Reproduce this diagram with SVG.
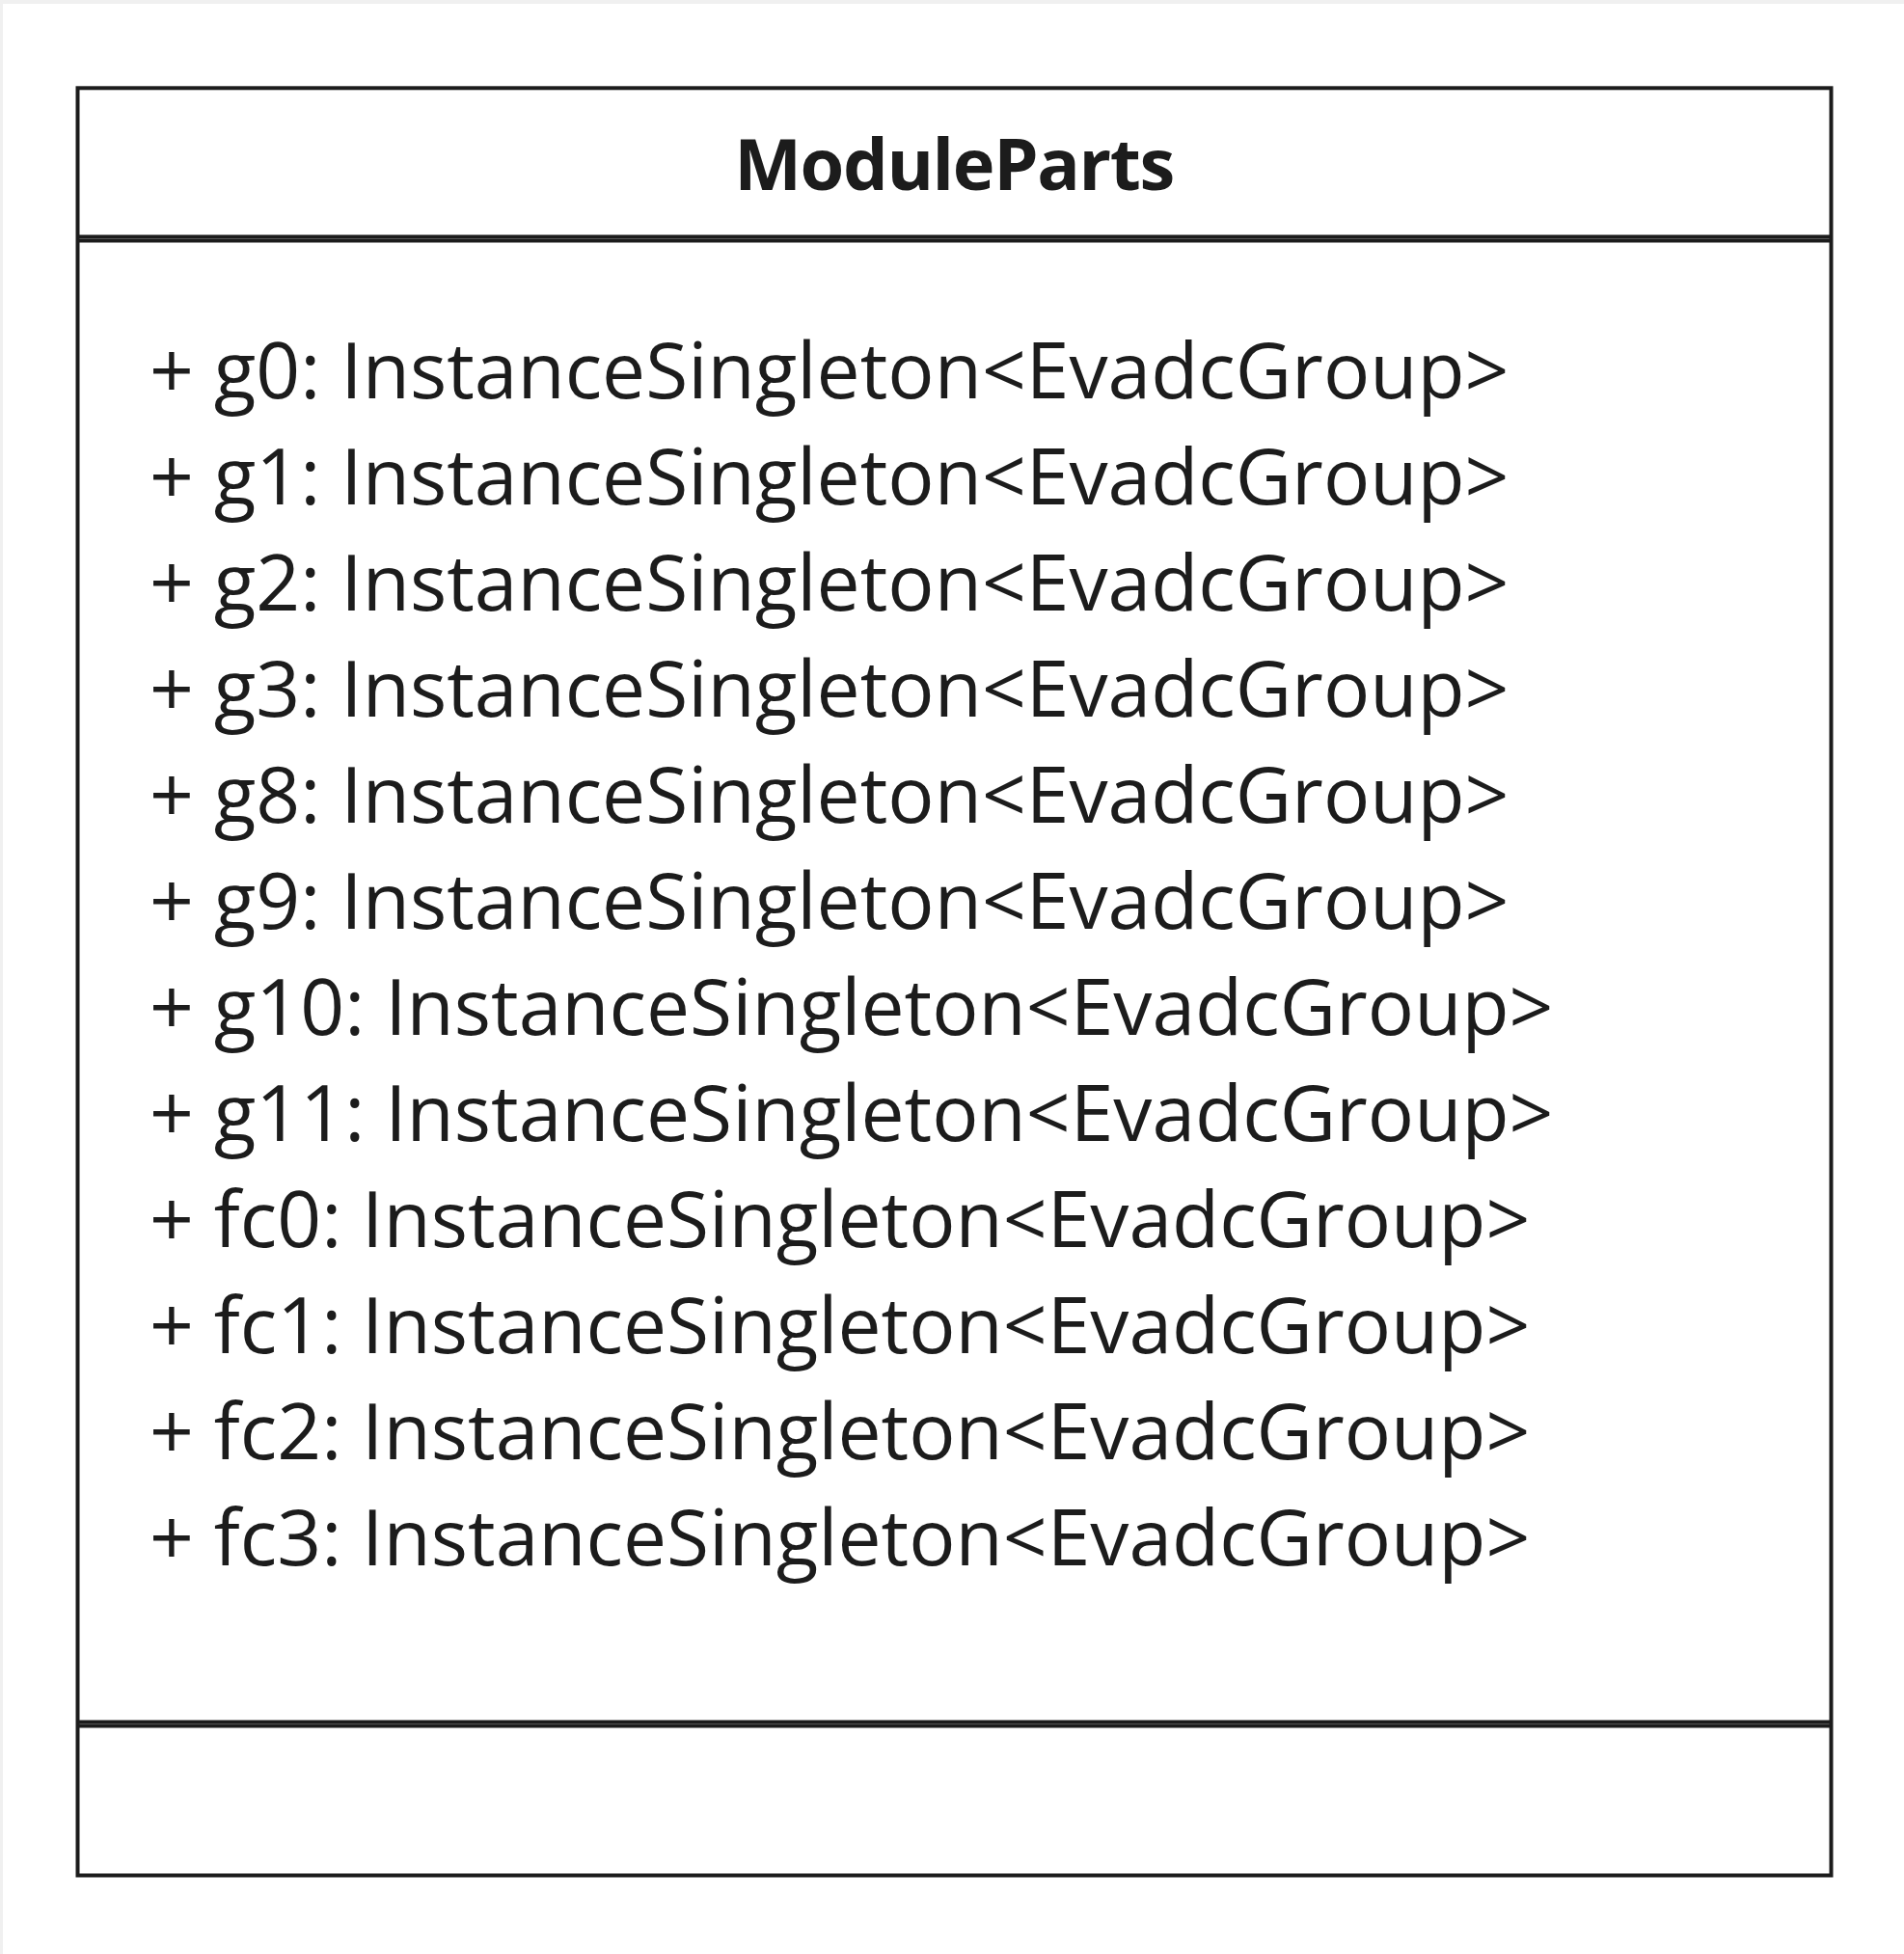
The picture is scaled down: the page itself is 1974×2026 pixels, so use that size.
<svg xmlns="http://www.w3.org/2000/svg" width="1974" height="2026" viewBox="0 0 1974 2026">
<style>
.box{fill:#ffffff;stroke:#1c1c1c;stroke-width:4}
.sep{stroke:#1c1c1c;stroke-width:4}
.title{font-family:"Open Sans","Liberation Sans",sans-serif;font-weight:700;font-size:74px;letter-spacing:-1.4px;fill:#1c1c1c;text-anchor:middle}
.attr{font-family:"Open Sans","Liberation Sans",sans-serif;font-size:80.3px;fill:#1c1c1c}
</style>
<rect x="0" y="0" width="1974" height="2026" fill="#f0f0f0"/>
<rect x="3" y="4" width="1971" height="2022" fill="#ffffff"/>
<g id="ModuleParts">
<rect class="box" x="80.5" y="91.3" width="1818" height="1853.2"/>
<line class="sep" x1="80.5" y1="245.5" x2="1898.5" y2="245.5"/>
<line class="sep" x1="80.5" y1="249.5" x2="1898.5" y2="249.5"/>
<line class="sep" x1="80.5" y1="1785.5" x2="1898.5" y2="1785.5"/>
<line class="sep" x1="80.5" y1="1789.5" x2="1898.5" y2="1789.5"/>
<text class="title" x="989" y="197">ModuleParts</text>
<text class="attr" x="155" y="413">+ g0: InstanceSingleton&lt;EvadcGroup&gt;</text>
<text class="attr" x="155" y="523">+ g1: InstanceSingleton&lt;EvadcGroup&gt;</text>
<text class="attr" x="155" y="633">+ g2: InstanceSingleton&lt;EvadcGroup&gt;</text>
<text class="attr" x="155" y="743">+ g3: InstanceSingleton&lt;EvadcGroup&gt;</text>
<text class="attr" x="155" y="853">+ g8: InstanceSingleton&lt;EvadcGroup&gt;</text>
<text class="attr" x="155" y="963">+ g9: InstanceSingleton&lt;EvadcGroup&gt;</text>
<text class="attr" x="155" y="1073">+ g10: InstanceSingleton&lt;EvadcGroup&gt;</text>
<text class="attr" x="155" y="1183">+ g11: InstanceSingleton&lt;EvadcGroup&gt;</text>
<text class="attr" x="155" y="1293">+ fc0: InstanceSingleton&lt;EvadcGroup&gt;</text>
<text class="attr" x="155" y="1403">+ fc1: InstanceSingleton&lt;EvadcGroup&gt;</text>
<text class="attr" x="155" y="1513">+ fc2: InstanceSingleton&lt;EvadcGroup&gt;</text>
<text class="attr" x="155" y="1623">+ fc3: InstanceSingleton&lt;EvadcGroup&gt;</text>
</g>
<g id="connectors"/>
</svg>
